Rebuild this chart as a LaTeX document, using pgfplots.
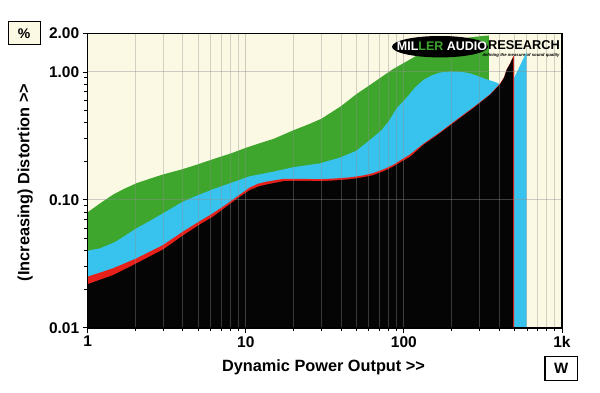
\documentclass[border=0pt]{standalone}
\usepackage{fontspec}
\setmainfont{Liberation Sans}[Ligatures=NoCommon]
\usepackage{graphicx}
\usepackage{pgfplots}
\pgfplotsset{compat=1.18}
\definecolor{cream}{RGB}{251,248,227}
\definecolor{mgreen}{RGB}{62,166,44}
\definecolor{mcyan}{RGB}{56,195,238}
\definecolor{mred}{RGB}{232,32,26}
\definecolor{mblack}{RGB}{5,5,5}
\begin{document}
\begin{tikzpicture}
\useasboundingbox (-87.7pt,-65.3pt) rectangle (512.3pt,327.7pt);
\begin{axis}[
  at={(0pt,0pt)}, anchor=south west,
  scale only axis, width=474.3pt, height=294.2pt,
  xmode=log, ymode=log,
  xmin=1, xmax=1000, ymin=0.01, ymax=2,
  xtick={1,10,100,1000}, xticklabels={1,10,100,1k},
  ytick={0.01,0.1,1,2}, yticklabels={0.01,0.10,1.00,2.00},
  minor xtick={2,3,4,5,6,7,8,9,20,30,40,50,60,70,80,90,200,300,400,500,600,700,800,900},
  minor ytick={0.02,0.03,0.04,0.05,0.06,0.07,0.08,0.09,0.2,0.3,0.4,0.5,0.6,0.7,0.8,0.9},
  tick pos=left, tick align=outside,
  axis on top,
  axis background/.style={fill=cream},
  xmajorgrids, xminorgrids, ymajorgrids,
  major grid style={draw=black!44, line width=1pt, opacity=0.42},
  minor grid style={draw=black!44, line width=0.9pt, opacity=0.38},
  axis line style={line width=1.6pt, black},
  every tick/.style={black, line width=0.8pt},
  major tick length=5pt, minor tick length=3.5pt,
  ticklabel style={font=\fontsize{15.5}{15.5}\selectfont\bfseries},
  /pgf/number format/assume math mode=true,
]
% green band
\addplot[fill=mgreen, draw=none] coordinates {
(0.9,0.008) (0.9,0.078) (1,0.080) (1.2,0.094) (1.45,0.110) (1.7,0.122) (2.04,0.135) (2.5,0.147)
(3.0,0.158) (4.0,0.174) (5.0,0.190) (6.2,0.208) (8.0,0.230) (10,0.255) (12,0.275)
(15,0.300) (20,0.350) (25,0.390) (30,0.430) (40,0.54) (50,0.67) (60,0.78) (70,0.89)
(85,1.05) (109,1.25) (130,1.42) (160,1.60) (200,1.74) (250,1.85) (300,1.90) (345,1.93)
(345,0.008)};
% cyan band
\addplot[fill=mcyan, draw=none] coordinates {
(0.9,0.008) (0.9,0.040) (1,0.040) (1.2,0.0418) (1.5,0.047) (2.04,0.060) (2.5,0.069)
(3.0,0.0786) (4.0,0.0968) (5.0,0.109) (6.2,0.121) (8.8,0.141) (10.6,0.153) (14.9,0.166)
(20,0.180) (29.4,0.193) (39.4,0.214) (50,0.242) (57,0.275) (64,0.309) (72,0.35)
(80,0.41) (90,0.52) (104,0.63) (118,0.76) (133,0.867) (150,0.94) (169,0.99) (195,1.01)
(216,1.007) (240,0.995) (262,0.975) (290,0.935) (318,0.894) (350,0.86) (386,0.826)
(405,0.80) (497,0.895) (598,1.44) (598,0.008)};
% red band
\addplot[fill=mred, draw=none] coordinates {
(0.9,0.008) (0.9,0.0245) (1,0.0251) (1.2,0.027) (1.45,0.0292) (2.04,0.0349) (3.0,0.0444)
(4.0,0.0564) (5.0,0.067) (6.2,0.0786) (7.5,0.092) (8.8,0.106) (10.6,0.125) (12,0.134)
(13.6,0.139) (17.3,0.146) (22,0.146) (29.4,0.145) (37,0.147) (45.6,0.150) (55,0.155)
(64,0.162) (75,0.174) (85.7,0.188) (100,0.212) (109,0.226) (133,0.275) (169,0.338)
(216,0.425) (275,0.53) (351,0.67) (405,0.81) (430,0.91) (447,1.05) (470,1.17)
(481,1.25) (493,1.33) (497,1.33) (497,0.008)};
% black area
\addplot[fill=mblack, draw=none] coordinates {
(0.9,0.008) (0.9,0.0213) (1,0.0219) (1.45,0.0258) (2.04,0.0319) (3.0,0.0409) (4.0,0.0525)
(5.0,0.063) (6.2,0.0738) (7.5,0.088) (8.8,0.102) (10.6,0.119) (12,0.127) (13.6,0.132)
(17.3,0.140) (22,0.141) (29.4,0.140) (37,0.142) (45.6,0.145) (55,0.150) (64,0.156)
(75,0.168) (85.7,0.182) (100,0.204) (109,0.216) (133,0.269) (169,0.332) (216,0.417)
(275,0.521) (351,0.662) (405,0.797) (430,0.90) (447,1.04) (470,1.16) (481,1.24)
(491,1.30) (491,0.008)};
\end{axis}
% logo
\fill[black] (352.3pt,281pt) ellipse [x radius=48pt, y radius=10.7pt];
\node[font=\fontsize{12.5}{12}\selectfont\bfseries, inner sep=0pt] at (354.3pt,281pt)
  {\textcolor{white}{MIL}\textcolor{mgreen}{LER} \textcolor{white}{AUDIO}};
\node[font=\fontsize{12.8}{12}\selectfont\bfseries, inner sep=0pt] at (436.3pt,282.2pt) {RESEARCH};
\node[inner sep=0pt] at (433.3pt,272.7pt)
  {\resizebox{77pt}{!}{\fontsize{5}{5}\selectfont\bfseries\itshape defining the measure of sound quality}};
% unit boxes
\node[draw=black, line width=1.2pt, fill=cream, minimum width=32pt, minimum height=23pt,
  font=\fontsize{14}{14}\selectfont\bfseries, inner sep=0pt] at (-63.5pt,294.4pt) {\%};
\node[draw=black, line width=1.2pt, fill=white, minimum width=32.7pt, minimum height=24pt,
  font=\fontsize{15}{15}\selectfont\bfseries, inner sep=0pt] at (473.6pt,-41.1pt) {W};
% axis labels
\node[anchor=base, font=\fontsize{16.3}{16}\selectfont\bfseries, inner sep=0pt] at (235.8pt,-44pt)
  {Dynamic Power Output >{}>};
\node[anchor=base, rotate=90, font=\fontsize{16.3}{16}\selectfont\bfseries, inner sep=0pt] at (-58.4pt,145.2pt)
  {(Increasing) Distortion >{}>};
\end{tikzpicture}
\end{document}
